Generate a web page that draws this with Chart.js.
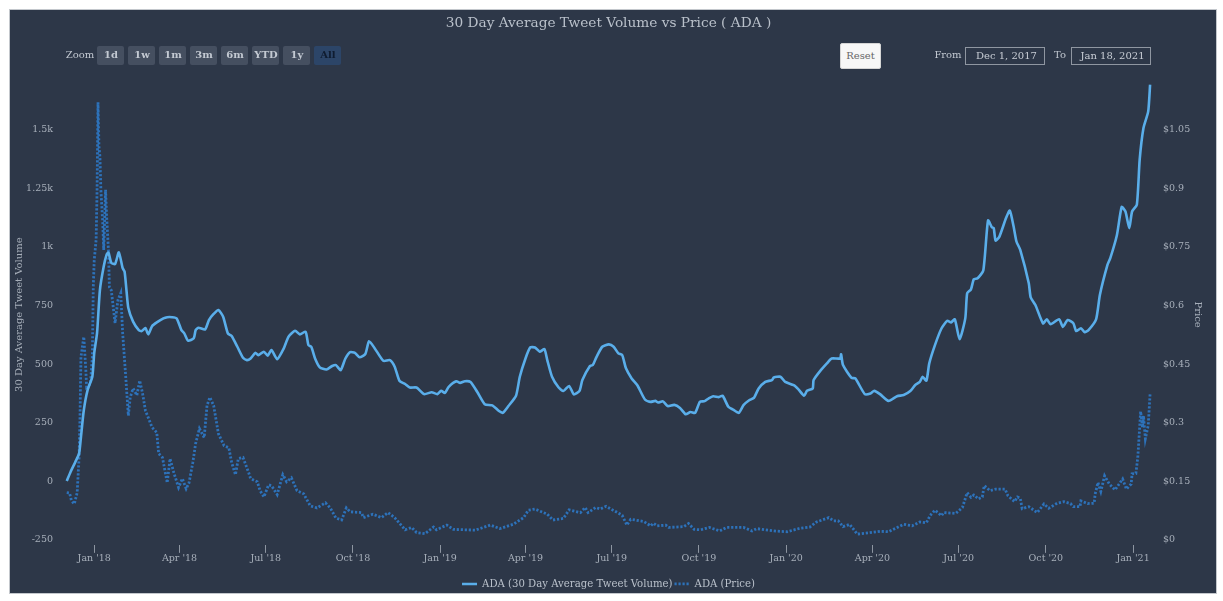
<!DOCTYPE html>
<html>
<head>
<meta charset="utf-8">
<script src="https://cdn.jsdelivr.net/npm/chart.js@4"></script>
<style>
html,body{margin:0;padding:0;background:#fff;width:1223px;height:601px;overflow:hidden;font-family:'DejaVu Serif',serif}
#panel{position:absolute;left:9px;top:9px;width:1206px;height:583px;background:#2d3748;border:1px solid #c3c7cc;border-bottom-color:#c3c7cc}
canvas{position:absolute;left:0;top:0}
.c{position:absolute;box-sizing:border-box;text-align:center;font-size:10px}
.lbl{color:#c3c9d2;line-height:18px;top:46px;height:18px}
.btn{top:46px;height:19px;width:27px;background:#454f60;color:#c3c9d2;font-weight:bold;line-height:18px;border-radius:2px;padding-left:1px}
.btn.on{background:#2c4568;color:#0f1c30}
.inp{top:47px;height:18px;width:80px;border:1px solid #8f96a1;color:#c9ced6;line-height:16px;padding-left:3px}
#reset{left:840px;top:43px;width:41px;height:26px;background:#f7f7f7;border:1px solid #d5d5d5;border-radius:2px;color:#666;line-height:24px}
</style>
</head>
<body>
<div id="panel"></div>
<canvas id="c" width="1223" height="601"></canvas>
<div class="c lbl" style="left:64px;width:32px">Zoom</div>
<div class="c btn" style="left:97px">1d</div>
<div class="c btn" style="left:128px">1w</div>
<div class="c btn" style="left:159px">1m</div>
<div class="c btn" style="left:190px">3m</div>
<div class="c btn" style="left:221px">6m</div>
<div class="c btn" style="left:252px">YTD</div>
<div class="c btn" style="left:283px">1y</div>
<div class="c btn on" style="left:314px">All</div>
<div class="c" id="reset">Reset</div>
<div class="c lbl" style="left:933px;width:30px">From</div>
<div class="c inp" style="left:965px">Dec 1, 2017</div>
<div class="c lbl" style="left:1052px;width:16px">To</div>
<div class="c inp" style="left:1071px">Jan 18, 2021</div>
<script>
const chartTitle = '30 Day Average Tweet Volume vs Price ( ADA )';
const volumeName = 'ADA (30 Day Average Tweet Volume)';
const priceName = 'ADA (Price)';
const leftTitle = '30 Day Average Tweet Volume';
const rightTitle = 'Price';

// x values are days counted from 1 Jan 2018
const tickDays = [0,90,181,273,365,455,546,638,730,821,912,1004,1096];
const tickLabels = ["Jan '18","Apr '18","Jul '18","Oct '18","Jan '19","Apr '19","Jul '19","Oct '19","Jan '20","Apr '20","Jul '20","Oct '20","Jan '21"];
const volumeTicks = [-250,0,250,500,750,1000,1250,1500];
const volumeTickLabels = ['-250','0','250','500','750','1k','1.25k','1.5k'];
const priceTicks = [0,0.15,0.3,0.45,0.6,0.75,0.9,1.05];
const priceTickLabels = ['$0','$0.15','$0.3','$0.45','$0.6','$0.75','$0.9','$1.05'];

const volumeDays = [-29,-25,-20,-16,-14,-11,-7,-2,0,3,6,10,13,15,18,22,26,30,32,34,36,41,47,50,54,57,61,66,73,77,82,87,92,95,99,105,107,110,117,121,126,131,136,141,145,151,157,161,165,170,173,179,183,187,193,200,205,212,217,223,226,229,233,238,245,251,255,260,265,270,275,280,286,290,296,305,312,317,322,328,333,340,348,356,362,366,370,374,382,386,391,397,404,412,420,427,431,437,445,449,455,460,465,470,475,478,483,490,495,501,506,512,515,523,526,530,536,543,548,553,557,561,567,573,581,587,592,595,600,605,612,618,624,629,634,639,644,648,653,659,663,669,674,680,685,691,696,701,708,715,717,724,729,738,743,749,752,758,759,766,773,778,787,788,790,799,803,813,819,823,829,838,847,854,861,866,871,874,878,881,887,894,900,904,908,913,919,921,925,928,932,938,943,947,949,951,955,962,966,970,973,977,986,988,993,1001,1005,1009,1018,1022,1027,1033,1036,1041,1045,1049,1057,1061,1069,1072,1079,1084,1088,1092,1095,1100,1103,1107,1112,1114];
const volumeValues = [1,40,82,118,189,303,389,446,547,633,816,916,966,976,932,927,977,909,895,816,739,681,645,641,654,627,662,678,695,700,700,695,645,631,600,610,645,655,648,688,714,731,702,631,620,574,527,517,524,548,538,553,536,560,521,567,617,642,627,638,581,574,524,486,477,492,496,474,524,551,548,529,543,598,567,514,517,489,429,415,400,400,372,380,372,386,377,403,427,420,427,424,382,329,324,300,292,321,365,446,524,571,571,553,564,517,446,400,385,407,371,386,432,492,496,531,574,584,574,546,539,482,439,410,349,339,343,336,341,321,326,313,286,296,292,339,342,353,363,359,365,318,306,292,325,346,356,396,424,432,443,446,424,410,392,365,386,396,432,471,503,524,524,542,496,441,439,372,375,386,372,343,363,368,385,410,424,446,429,503,581,653,685,678,691,606,695,802,819,862,866,899,1113,1084,1080,1027,1044,1123,1155,1087,1023,987,845,785,752,674,691,670,691,659,688,674,641,653,636,645,691,795,923,952,1051,1170,1151,1080,1151,1180,1372,1507,1578,1693];

const priceDays = [-29,-26,-24,-21,-18,-16,-15,-14,-11,-9,-8,-4,-2,-1,0,2,3,4,5,6,7,9,10,12,13,15,16,18,22,25,28,30,33,36,38,41,45,48,51,54,57,61,66,68,72,77,80,84,89,93,97,100,104,107,111,116,119,122,126,131,137,142,145,149,152,157,163,165,172,175,179,184,187,193,199,203,208,214,221,228,235,244,249,255,261,266,270,282,284,294,303,310,317,328,335,340,349,358,361,372,379,402,418,428,442,453,458,465,478,484,495,501,513,518,521,529,534,540,552,557,562,566,580,587,590,594,603,606,622,627,633,640,649,660,667,685,694,699,717,731,745,755,762,775,780,785,790,797,805,813,829,838,854,863,871,878,882,887,894,896,909,916,921,925,928,933,937,939,945,951,961,964,971,974,977,979,986,995,1002,1007,1016,1023,1030,1033,1040,1041,1048,1055,1056,1059,1062,1066,1071,1077,1085,1089,1094,1095,1099,1101,1103,1104,1106,1107,1109,1112,1114];
const priceValues = [.121,.120,.100,.092,.121,.211,.314,.468,.520,.442,.391,.400,.468,.648,.716,.768,.896,1.12,1.007,.982,.896,.811,.742,.896,.832,.742,.647,.639,.555,.614,.632,.529,.426,.318,.365,.388,.370,.408,.375,.331,.313,.288,.275,.221,.211,.146,.208,.172,.134,.157,.131,.146,.198,.247,.285,.262,.344,.365,.344,.272,.241,.236,.198,.167,.208,.211,.172,.157,.149,.126,.110,.141,.139,.116,.167,.149,.159,.126,.118,.087,.082,.095,.082,.056,.051,.082,.072,.070,.057,.066,.057,.070,.057,.026,.032,.019,.016,.033,.026,.038,.027,.025,.038,.029,.040,.057,.076,.079,.066,.051,.055,.077,.070,.083,.070,.083,.079,.086,.070,.063,.038,.053,.047,.036,.043,.036,.038,.032,.034,.042,.027,.026,.032,.023,.032,.032,.023,.029,.023,.021,.030,.033,.046,.057,.049,.049,.034,.040,.015,.017,.022,.021,.040,.036,.046,.044,.063,.076,.062,.070,.068,.083,.121,.109,.115,.105,.110,.139,.126,.130,.130,.113,.098,.110,.107,.080,.085,.070,.092,.081,.094,.098,.093,.085,.085,.100,.093,.094,.117,.147,.124,.164,.143,.128,.156,.130,.143,.169,.170,.211,.288,.329,.288,.318,.259,.293,.374];

const textColor = '#a7afba';
const serif = "'DejaVu Serif'";
Chart.defaults.font.family = serif;
Chart.defaults.font.size = 9.5;
Chart.defaults.color = textColor;

const pairs = (xs, ys) => xs.map((x, i) => ({x, y: ys[i]}));
const setTicks = values => scale => { scale.ticks = values.map(value => ({value})); };
const labelFrom = (values, labels) => v => { const i = values.indexOf(v); return i < 0 ? '' : labels[i]; };
const legendItems = chart => Chart.defaults.plugins.legend.labels.generateLabels(chart).map((item, i) => {
  const ds = chart.data.datasets[i];
  return {...item, lineDash: ds.borderDash || [], lineWidth: ds.borderWidth, strokeStyle: ds.borderColor, fillStyle: ds.borderColor};
});

new Chart(document.getElementById('c'), {
  type: 'line',
  data: {
    datasets: [
      {label: volumeName, data: pairs(volumeDays, volumeValues), yAxisID: 'yV', borderColor: '#5aaeea', backgroundColor: '#5aaeea', borderWidth: 2.6, pointRadius: 0, tension: 0.2, borderJoinStyle: 'round'},
      {label: priceName, data: pairs(priceDays, priceValues), yAxisID: 'yP', borderColor: '#2d72ba', backgroundColor: '#2d72ba', borderWidth: 2.8, borderDash: [2.2, 1.8], pointRadius: 0, tension: 0}
    ]
  },
  options: {
    responsive: false,
    animation: false,
    layout: {padding: {left: 13, right: 19, top: 0, bottom: 2}},
    plugins: {
      tooltip: {enabled: false},
      title: {display: true, text: chartTitle, color: '#b9c0ca', font: {family: serif, size: 13.7, weight: 'normal'}, padding: {top: 15, bottom: 53}},
      legend: {
        position: 'bottom',
        labels: {generateLabels: legendItems, usePointStyle: true, pointStyle: 'line', pointStyleWidth: 15, boxHeight: 10, padding: 2, color: '#b9c0ca', font: {family: serif, size: 10.15}}
      }
    },
    scales: {
      x: {
        type: 'linear', min: -34, max: 1116,
        border: {display: false},
        grid: {display: true, drawOnChartArea: false, drawTicks: true, tickLength: 8, color: '#8d95a1', tickWidth: 1},
        afterBuildTicks: setTicks(tickDays),
        afterFit: s => { s.height = 32; },
        ticks: {autoSkip: false, maxRotation: 0, padding: 0, color: textColor, callback: labelFrom(tickDays, tickLabels)}
      },
      yV: {
        position: 'left', min: -271, max: 1693,
        border: {display: false},
        grid: {display: false, drawTicks: false},
        title: {display: true, text: leftTitle, color: textColor, font: {family: serif, size: 10}, padding: {top: 0, bottom: 0}},
        afterBuildTicks: setTicks(volumeTicks),
        afterFit: s => { s.width = 49; },
        ticks: {autoSkip: false, padding: 9, color: textColor, callback: labelFrom(volumeTicks, volumeTickLabels)}
      },
      yP: {
        position: 'right', min: -0.0126, max: 1.1658,
        border: {display: false},
        grid: {display: false, drawTicks: false},
        title: {display: true, text: rightTitle, color: textColor, font: {family: serif, size: 10}, padding: {top: 0, bottom: 0}},
        afterBuildTicks: setTicks(priceTicks),
        afterFit: s => { s.width = 52; },
        ticks: {autoSkip: false, padding: 11, color: textColor, callback: labelFrom(priceTicks, priceTickLabels)}
      }
    }
  }
});
</script>
</body>
</html>
